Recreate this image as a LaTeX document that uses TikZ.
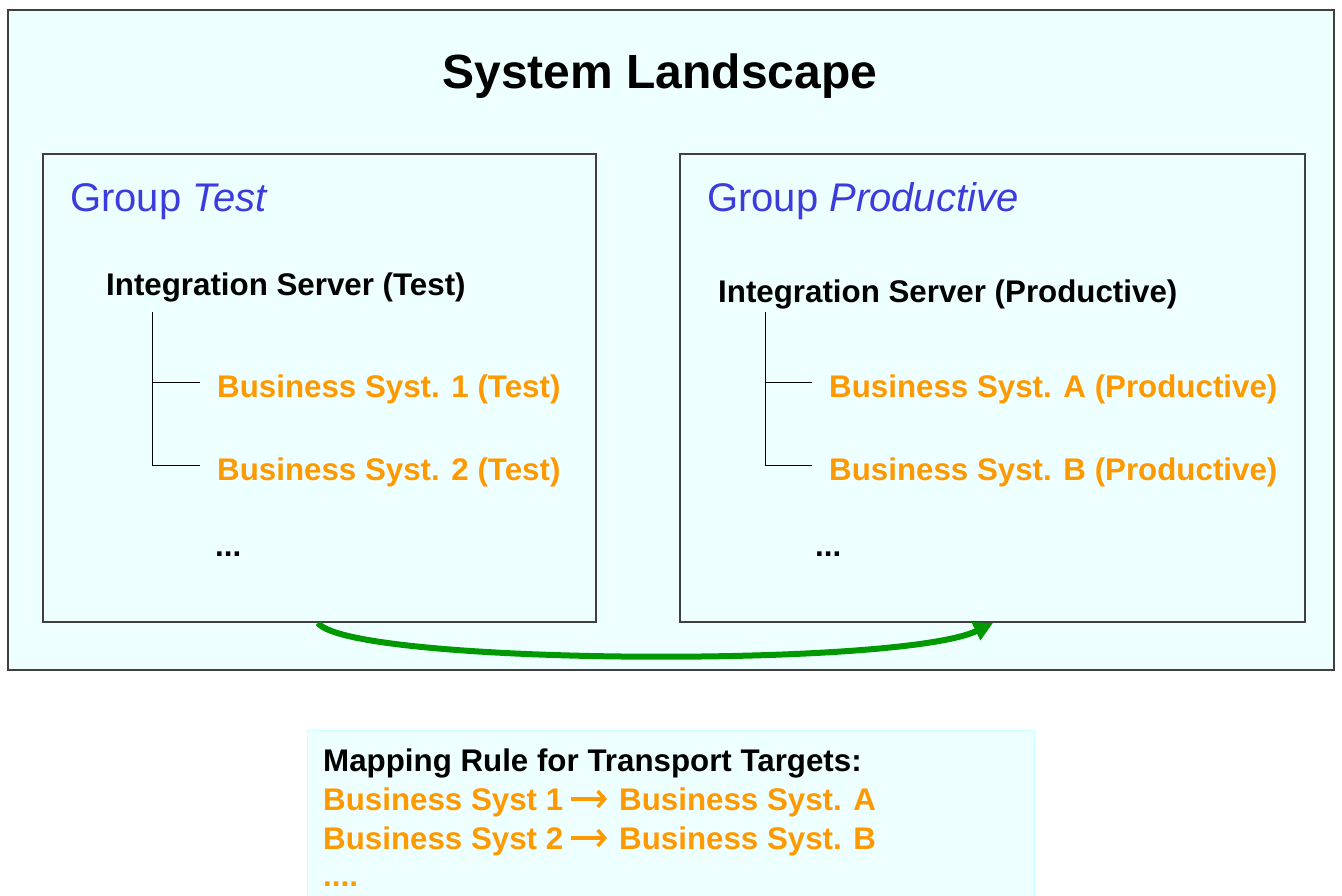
\documentclass[tikz,border=0pt]{standalone}
\usepackage{fontspec}
\setmainfont{Liberation Sans}
\usetikzlibrary{arrows.meta}
\definecolor{bgcyan}{HTML}{EEFFFF}
\definecolor{edgegray}{HTML}{404040}
\definecolor{grpblue}{HTML}{3C3CDC}
\definecolor{bsorange}{HTML}{FF9900}
\definecolor{arrgreen}{HTML}{009900}
\definecolor{lightedge}{HTML}{CCFFFF}
\tikzset{
  panel/.style={draw=edgegray, line width=1.5pt, fill=bgcyan},
  grplabel/.style={anchor=base west, inner sep=0pt, text=grpblue, font=\fontsize{40}{48}\selectfont},
  srvlabel/.style={anchor=base west, inner sep=0pt, font=\fontsize{31.3}{36}\selectfont\bfseries},
  bslabel/.style={anchor=base west, inner sep=0pt, text=bsorange, font=\fontsize{31.3}{36}\selectfont\bfseries},
  treeline/.style={draw=black, line width=1pt},
  maparrow/.style={draw=bsorange, line width=3.5pt, -{Straight Barb[length=7pt,width=16pt,line width=3.5pt]}},
}
\begin{document}
\begin{tikzpicture}[x=1pt,y=-1pt]
\useasboundingbox (0,0) rectangle (1342,896);
\clip (0,0) rectangle (1342,896);
\fill[white] (0,0) rectangle (1342,896);
% outer
\draw[panel] (8,10) rectangle (1334,670);
\node[anchor=base, inner sep=0pt, font=\fontsize{48}{56}\selectfont\bfseries] (title) at (660,89) {System Landscape};
% groups
\draw[panel] (43,154) rectangle (596,622);
\draw[panel] (680,154) rectangle (1305,622);
\coordinate (ltest) at (318,623);
\coordinate (lprod) at (993,623);
\node[grplabel] (gt) at (70,212) {Group \textit{Test}};
\node[grplabel] (gp) at (707,212) {Group \textit{Productive}};
% left tree
\node[srvlabel] (ist) at (106,295) {Integration Server (Test)};
\node[bslabel] (b1) at (217,397) {Business Syst. 1 (Test)};
\node[bslabel] (b2) at (217,480) {Business Syst. 2 (Test)};
\node[srvlabel] (dl) at (215,556) {...};
\draw[treeline] (152,312) -- (152,465) -- (200,465);
\draw[treeline] (152,382) -- (200,382);
% right tree
\node[srvlabel] (isp) at (718,302) {Integration Server (Productive)};
\node[bslabel] (ba) at (829,397) {Business Syst. A (Productive)};
\node[bslabel] (bb) at (829,480) {Business Syst. B (Productive)};
\node[srvlabel] (dr) at (815,556) {...};
\draw[treeline] (765,312) -- (765,465) -- (812,465);
\draw[treeline] (765,382) -- (812,382);
% transport arrow
\draw[draw=arrgreen, line width=6pt, -{Triangle[length=19pt,width=19pt]}] (ltest) .. controls (350,665) and (900,668) .. (lprod);
% mapping box
\draw[draw=lightedge, line width=1pt, fill=bgcyan] (307,900) -- (307,730) -- (1034,730) -- (1034,900);
\node[srvlabel] (m0) at (323,771) {Mapping Rule for Transport Targets:};
\node[bslabel] (m1a) at (323,810) {Business Syst 1};
\node[bslabel] (m1b) at (619,810) {Business Syst. A};
\node[bslabel] (m2a) at (323,849) {Business Syst 2};
\node[bslabel] (m2b) at (619,849) {Business Syst. B};
\node[bslabel] (m3) at (323,886) {....};
\draw[maparrow] ([xshift=8pt,yshift=11pt]m1a.base east) -- ([xshift=-12pt,yshift=11pt]m1b.base west);
\draw[maparrow] ([xshift=8pt,yshift=11pt]m2a.base east) -- ([xshift=-12pt,yshift=11pt]m2b.base west);
\end{tikzpicture}
\end{document}
